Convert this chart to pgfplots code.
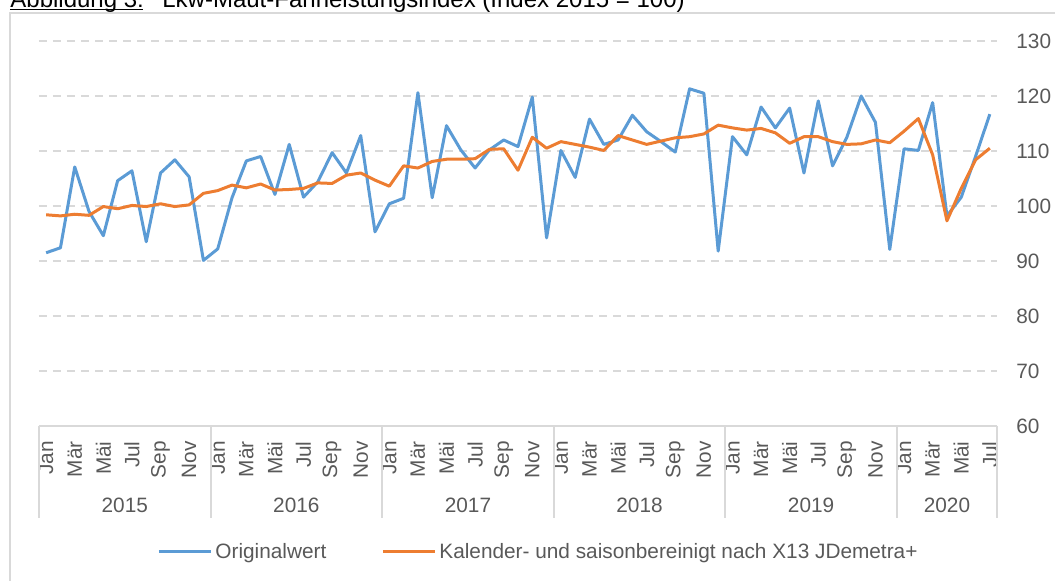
\documentclass[border=0pt]{standalone}
\usepackage{fontspec}
\setmainfont{Liberation Sans}
\usepackage{pgfplots}
\pgfplotsset{compat=1.18}
\definecolor{blueS}{HTML}{5B9BD5}
\definecolor{orangeS}{HTML}{ED7D31}
\definecolor{gridc}{HTML}{D9D9D9}
\definecolor{labelc}{HTML}{595959}
\newcommand{\fs}{\fontsize{10.4}{12.5}\selectfont}
\begin{document}
\begin{tikzpicture}[font=\fs]
\useasboundingbox (0,0) rectangle (527.5pt,290.5pt);
% chart frame
\draw[gridc, line width=1pt] (5pt,-20pt) -- (5pt,284pt) -- (560pt,284pt);
% title
\node[anchor=base west, inner sep=0pt, text=black, font=\fontsize{12}{14}\selectfont] at (5pt,286.5pt) {Abbildung 3:};
\draw[black, line width=0.5pt] (5pt,285.5pt) -- (71.5pt,285.5pt);
\node[anchor=base west, inner sep=0pt, text=black, font=\fontsize{12}{14}\selectfont] at (81pt,286.5pt) {Lkw-Maut-Fahrleistungsindex (Index 2015 = 100)};
\begin{axis}[
  at={(19.5pt,77.5pt)}, anchor=south west,
  scale only axis, width=479pt, height=192.5pt,
  xmin=-0.5, xmax=66.5, ymin=60, ymax=130,
  clip=false,
  axis x line*=bottom, axis y line*=right,
  x axis line style={draw=gridc, line width=1pt, -},
  y axis line style={draw=none},
  major tick length=0pt,
  ytick={60,70,...,130},
  ymajorgrids,
  grid style={gridc, line width=0.9pt, dash pattern=on 4pt off 3pt},
  /pgf/number format/assume math mode=true,
  yticklabel style={anchor=west, inner sep=0pt, xshift=9.5pt, text=labelc, font=\fs},
  xtick={0,2,...,66},
  xticklabels={Jan,Mär,Mäi,Jul,Sep,Nov,Jan,Mär,Mäi,Jul,Sep,Nov,Jan,Mär,Mäi,Jul,Sep,Nov,Jan,Mär,Mäi,Jul,Sep,Nov,Jan,Mär,Mäi,Jul,Sep,Nov,Jan,Mär,Mäi,Jul},
  xticklabel style={yshift=-7.5pt, rotate=90, anchor=east, inner sep=0pt, text=labelc, font=\fs},
  legend style={at={(0.1232,-0.3273)}, anchor=west, draw=none, fill=none, inner sep=0pt,
    font=\fs, text=labelc, nodes={inner xsep=1.5pt, inner ysep=0pt},
    /tikz/every even column/.append style={column sep=26pt}},
  legend columns=2,
  legend image code/.code={\draw[#1] (0pt,0pt) -- (26pt,0pt);},
]
\addplot[blueS, line width=1.5pt, line join=round, mark=none] coordinates {
(0,91.5) (1,92.4) (2,107.1) (3,99.0) (4,94.6) (5,104.6) (6,106.4) (7,93.5) (8,106.0) (9,108.4) (10,105.3) (11,90.1)
(12,92.2) (13,101.5) (14,108.2) (15,109.0) (16,102.1) (17,111.2) (18,101.6) (19,104.4) (20,109.7) (21,106.0) (22,112.8) (23,95.3)
(24,100.4) (25,101.4) (26,120.6) (27,101.5) (28,114.6) (29,110.2) (30,106.9) (31,110.2) (32,112.0) (33,110.8) (34,119.8) (35,94.2)
(36,110.1) (37,105.2) (38,115.8) (39,111.2) (40,112.0) (41,116.5) (42,113.5) (43,111.7) (44,109.8) (45,121.3) (46,120.5) (47,91.8)
(48,112.6) (49,109.3) (50,118.0) (51,114.2) (52,117.8) (53,106.0) (54,119.1) (55,107.3) (56,112.5) (57,120.0) (58,115.2) (59,92.1)
(60,110.4) (61,110.1) (62,118.8) (63,98.2) (64,101.6) (65,109.0) (66,116.7)
};
\addlegendentry{Originalwert}
\addplot[orangeS, line width=1.5pt, line join=round, mark=none] coordinates {
(0,98.4) (1,98.2) (2,98.5) (3,98.3) (4,99.9) (5,99.5) (6,100.1) (7,99.9) (8,100.4) (9,99.9) (10,100.2) (11,102.3)
(12,102.8) (13,103.8) (14,103.3) (15,104.0) (16,102.9) (17,103.0) (18,103.2) (19,104.2) (20,104.1) (21,105.6) (22,106.0) (23,104.7)
(24,103.6) (25,107.3) (26,106.9) (27,108.1) (28,108.5) (29,108.5) (30,108.6) (31,110.3) (32,110.4) (33,106.5) (34,112.5) (35,110.5)
(36,111.7) (37,111.2) (38,110.7) (39,110.1) (40,112.8) (41,112.0) (42,111.2) (43,111.8) (44,112.4) (45,112.6) (46,113.1) (47,114.7)
(48,114.2) (49,113.8) (50,114.1) (51,113.3) (52,111.4) (53,112.6) (54,112.6) (55,111.7) (56,111.2) (57,111.3) (58,112.0) (59,111.5)
(60,113.6) (61,115.9) (62,109.3) (63,97.3) (64,103.2) (65,108.4) (66,110.5)
};
\addlegendentry{Kalender- und saisonbereinigt nach X13 JDemetra+}
% year separators
\pgfplotsinvokeforeach{-0.5,11.5,23.5,35.5,47.5,59.5,66.5}{
  \draw[gridc, line width=1pt] (axis cs:#1,60) -- ++(0pt,-46pt);
}
\node[text=labelc] at ([yshift=-39.5pt]axis cs:5.5,60) {2015};
\node[text=labelc] at ([yshift=-39.5pt]axis cs:17.5,60) {2016};
\node[text=labelc] at ([yshift=-39.5pt]axis cs:29.5,60) {2017};
\node[text=labelc] at ([yshift=-39.5pt]axis cs:41.5,60) {2018};
\node[text=labelc] at ([yshift=-39.5pt]axis cs:53.5,60) {2019};
\node[text=labelc] at ([yshift=-39.5pt]axis cs:63,60) {2020};
\end{axis}
\end{tikzpicture}
\end{document}
